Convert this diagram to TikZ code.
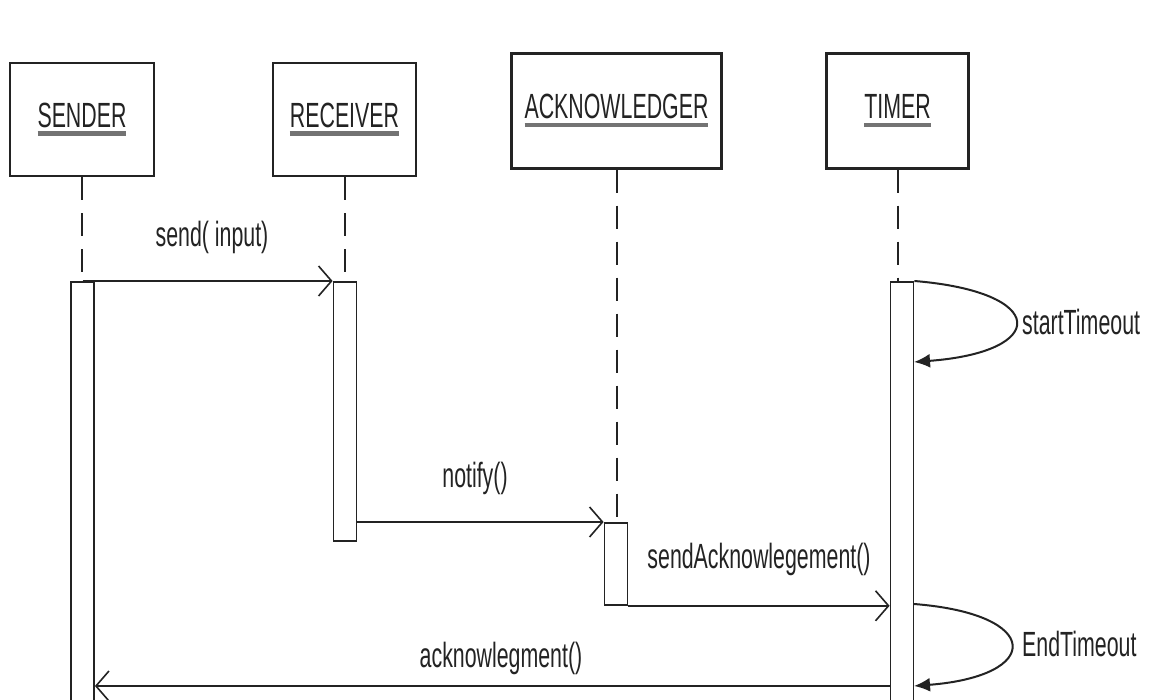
\documentclass[tikz,border=0pt]{standalone}
\usepackage{fontspec}
\setmainfont[FakeStretch=0.61]{Liberation Sans}
\usetikzlibrary{arrows.meta}
\definecolor{ink}{RGB}{35,35,35}
\newcommand{\uln}[1]{\setbox0\hbox{#1}\copy0\kern-\wd0\textcolor{black!55}{\rule[-8.5pt]{\wd0}{4.5pt}}}
\tikzset{
  objbox/.style={draw=ink, line width=2.2pt, fill=white, minimum height=115pt, inner sep=0pt, text=ink, font=\fontsize{35}{40}\selectfont},
  actbar/.style={draw=ink, line width=1.8pt, fill=white, minimum width=23pt, anchor=north, inner sep=0pt},
  life/.style={draw=ink, line width=2pt, dash pattern=on 23pt off 13pt},
  msg/.style={draw=ink, line width=1.8pt, -{Straight Barb[length=13pt,width=30pt,line width=1.6pt]}},
  selfmsg/.style={draw=ink, line width=2pt, -{Latex[length=16pt,width=14pt]}},
  lbl/.style={text=ink, font=\fontsize{35}{40}\selectfont, inner sep=0pt}
}
\begin{document}
\begin{tikzpicture}[x=1pt,y=-1pt]
\useasboundingbox (0,0) rectangle (1150,700);
\clip (0,0) rectangle (1150,700);
\fill[white] (0,0) rectangle (1150,700);
% objects
\node[objbox, minimum width=144pt, minimum height=113pt] (sbox) at (82,119.5) {\uln{SENDER}};
\node[objbox, minimum width=143pt, minimum height=113pt] (rbox) at (344.5,119.5) {\uln{RECEIVER}};
\node[objbox, minimum width=210pt] (abox) at (616.5,111) {\uln{ACKNOWLEDGER}};
\node[objbox, minimum width=142pt] (tbox) at (897.5,111) {\uln{TIMER}};
% activation bars
\node[actbar, minimum height=440pt] (sbar) at (82.5,281) {};
\node[actbar, minimum height=259pt] (rbar) at (345,281) {};
\node[actbar, minimum height=82pt] (abar) at (616,522) {};
\node[actbar, minimum height=440pt] (tbar) at (902,281) {};
% lifelines
\draw[life] (sbox.south) -- (sbox.south |- sbar.north);
\draw[life] (rbox.south) -- (rbox.south |- rbar.north);
\draw[life] (abox.south) -- (abox.south |- abar.north);
\draw[life] (tbox.south) -- (tbox.south |- tbar.north);
% messages
\draw[msg] (sbar.north) -- (rbar.north west);
\node[lbl] (lsend) at (212,237) {send( input)};
\draw[msg] (rbar.east |- abar.north) -- (abar.north west);
\node[lbl] (lnotify) at (475,478) {notify()};
\draw[msg] (abar.south east) -- (tbar.west |- abar.south);
\node[lbl] (lsendack) at (759,559) {sendAcknowlegement()};
\coordinate (ackY) at (500,686);
\draw[msg] (tbar.west |- ackY) -- (sbar.east |- ackY);
\node[lbl] (lack) at (501,658) {acknowlegment()};
% self messages
\coordinate (st1) at (914,362);
\draw[selfmsg] (tbar.north east) .. controls (1049,292) and (1049,352) .. (st1);
\node[lbl, anchor=west] (lstart) at (1022,322) {startTimeout};
\coordinate (et0) at (914,604);
\coordinate (et1) at (914,686);
\draw[selfmsg] (et0) .. controls (1043,614) and (1043,676) .. (et1);
\node[lbl, anchor=west] (lend) at (1022,644) {EndTimeout};
\end{tikzpicture}
\end{document}
